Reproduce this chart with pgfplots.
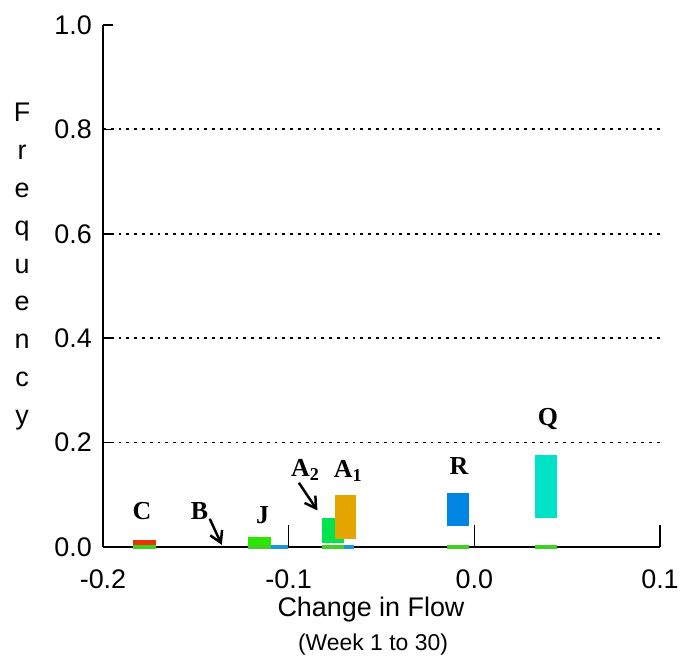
\documentclass[border=0pt]{standalone}
\usepackage{pgfplots}
\pgfplotsset{compat=1.18}
\usepackage{fontspec}
\setmainfont{Liberation Sans}
\newfontfamily\serifb{Liberation Serif}
\usetikzlibrary{arrows.meta}
\definecolor{cC}{RGB}{232,52,0}
\definecolor{cJ}{RGB}{44,230,0}
\definecolor{cAtwo}{RGB}{0,228,80}
\definecolor{cAone}{RGB}{228,165,0}
\definecolor{cR}{RGB}{0,133,228}
\definecolor{cQ}{RGB}{0,226,200}
\definecolor{cBaseG}{RGB}{60,212,30}
\definecolor{cBaseB}{RGB}{30,150,220}
\begin{document}
\begin{tikzpicture}
\path (-103bp,-114bp) rectangle (581bp,547bp);
\begin{axis}[
  scale only axis, width=557bp, height=522bp,
  xmin=-0.2, xmax=0.1, ymin=0, ymax=1,
  axis x line=bottom, axis y line=left,
  axis line style={line width=2bp, -},
  xtick={-0.2,-0.1,0,0.1}, ytick={0,0.2,0.4,0.6,0.8,1.0},
  tick align=inside, major tick length=10bp,
  tick style={line width=1.5bp, black},
  /pgf/number format/.cd, fixed, fixed zerofill, precision=1, assume math mode=true, /pgfplots/.cd,
  ticklabel style={font=\fontsize{27}{27}\selectfont, inner sep=0pt},
  xticklabel style={anchor=north, yshift=-23bp},
  yticklabel style={anchor=east, xshift=-11bp},
  extra y ticks={0.2,0.4,0.6,0.8}, extra y tick labels={},
  extra y tick style={grid=major},
  major grid style={black, line width=1.8bp, dash pattern=on 2.8bp off 5bp},
  clip=false,
]
% C
\addplot[fill=cC, draw=none] coordinates {(-0.184,0) (-0.1715,0) (-0.1715,0.013) (-0.184,0.013)} -- cycle;
% J
\addplot[fill=cJ, draw=none] coordinates {(-0.122,0.003) (-0.1097,0.003) (-0.1097,0.019) (-0.122,0.019)} -- cycle;
% A2
\addplot[fill=cAtwo, draw=none] coordinates {(-0.0822,0.007) (-0.070,0.007) (-0.070,0.056) (-0.0822,0.056)} -- cycle;
% A1
\addplot[fill=cAone, draw=none] coordinates {(-0.0749,0.0144) (-0.0637,0.0144) (-0.0637,0.100) (-0.0749,0.100)} -- cycle;
% R
\addplot[fill=cR, draw=none] coordinates {(-0.0147,0.041) (-0.0027,0.041) (-0.0027,0.103) (-0.0147,0.103)} -- cycle;
% Q
\addplot[fill=cQ, draw=none] coordinates {(0.0325,0.055) (0.0444,0.055) (0.0444,0.176) (0.0325,0.176)} -- cycle;
% base strips (green)
\addplot[fill=cBaseG, draw=none] coordinates {(-0.184,-0.003) (-0.1715,-0.003) (-0.1715,0.004) (-0.184,0.004)} -- cycle;
\addplot[fill=cBaseG, draw=none] coordinates {(-0.122,-0.003) (-0.1097,-0.003) (-0.1097,0.004) (-0.122,0.004)} -- cycle;
\addplot[fill=cBaseG, draw=none] coordinates {(-0.0822,-0.003) (-0.070,-0.003) (-0.070,0.004) (-0.0822,0.004)} -- cycle;
\addplot[fill=cBaseG, draw=none] coordinates {(-0.0147,-0.003) (-0.0027,-0.003) (-0.0027,0.004) (-0.0147,0.004)} -- cycle;
\addplot[fill=cBaseG, draw=none] coordinates {(0.0325,-0.003) (0.0444,-0.003) (0.0444,0.004) (0.0325,0.004)} -- cycle;
% base strips (blue)
\addplot[fill=cBaseB, draw=none] coordinates {(-0.1095,-0.003) (-0.1006,-0.003) (-0.1006,0.004) (-0.1095,0.004)} -- cycle;
\addplot[fill=cBaseB, draw=none] coordinates {(-0.0700,-0.003) (-0.0650,-0.003) (-0.0650,0.004) (-0.0700,0.004)} -- cycle;
% long x ticks
\draw[line width=1.5bp] (axis cs:-0.1,0) -- ([yshift=22bp]axis cs:-0.1,0);
\draw[line width=1.5bp] (axis cs:0,0) -- ([yshift=22bp]axis cs:0,0);
\draw[line width=1.5bp] (axis cs:0.1,0) -- ([yshift=22bp]axis cs:0.1,0);
% labels
\begin{scope}[every node/.style={font=\serifb\bfseries\fontsize{26}{26}\selectfont, inner sep=0pt}]
\node at (axis cs:-0.179,0.068) {C};
\node at (axis cs:-0.148,0.068) {B};
\node at (axis cs:-0.114,0.061) {J};
\node at (axis cs:-0.091,0.148) {A\textsubscript{2}};
\node at (axis cs:-0.068,0.146) {A\textsubscript{1}};
\node at (axis cs:-0.0083,0.156) {R};
\node at (axis cs:0.0397,0.246) {Q};
\end{scope}
\draw[-{Straight Barb[length=11bp,width=13bp]}, line width=2.5bp] (axis cs:-0.1425,0.054) -- (axis cs:-0.136,0.004);
\draw[-{Straight Barb[length=11bp,width=13bp]}, line width=2.5bp] (axis cs:-0.0945,0.123) -- (axis cs:-0.0845,0.070);
\end{axis}
\node[font=\fontsize{27}{27}\selectfont] at (268bp,-63bp) {Change in Flow};
\node[font=\fontsize{23}{23}\selectfont] at (270bp,-98bp) {(Week 1 to 30)};
\node[anchor=north, align=center, inner sep=0pt, font=\fontsize{27}{38}\selectfont] at (-81bp,444bp) {F\\r\\e\\q\\u\\e\\n\\c\\y};
\end{tikzpicture}
\end{document}
